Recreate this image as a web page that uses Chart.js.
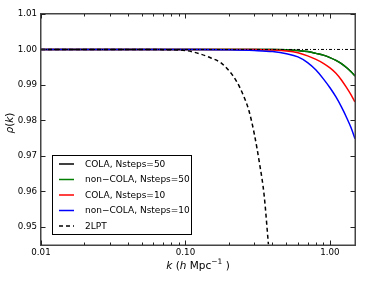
<!DOCTYPE html>
<html>
<head>
<meta charset="utf-8">
<script src="https://cdn.jsdelivr.net/npm/chart.js@4"></script>
<style>
html,body{margin:0;padding:0;background:#fff;}
canvas{display:block;}
</style>
</head>
<body>
<canvas id="c" width="374" height="282"></canvas>
<script>
// ---- data ----
const seriesLabels = ["COLA, Nsteps=50", "non\u2212COLA, Nsteps=50", "COLA, Nsteps=10", "non\u2212COLA, Nsteps=10", "2LPT"];
const kGrid = [0.01, 0.02, 0.05, 0.1, 0.2, 0.3, 0.4, 0.5, 0.6, 0.7, 0.8, 0.9, 1.0, 1.1, 1.2, 1.3, 1.4, 1.49];
const rhoCola50    = [1, 1, 1, 1, 1, 1, 1, 0.99995, 0.9997, 0.9994, 0.9989, 0.9984, 0.9977, 0.9969, 0.9960, 0.9949, 0.9937, 0.9925];
const rhoNonCola50 = [1, 1, 1, 1, 1, 1, 1, 0.99995, 0.9997, 0.9994, 0.9989, 0.9984, 0.9977, 0.9969, 0.9960, 0.9949, 0.9937, 0.9925];
const rhoCola10    = [1, 1, 1, 1, 1, 1, 0.99985, 0.9996, 0.9991, 0.9982, 0.9972, 0.9961, 0.9948, 0.9933, 0.9914, 0.9893, 0.9872, 0.9852];
const rhoNonCola10 = [1, 1, 1, 0.99998, 0.9999, 0.9997, 0.9994, 0.9988, 0.9979, 0.9963, 0.9942, 0.9917, 0.9892, 0.9866, 0.9838, 0.9809, 0.9779, 0.9748];
const k2lpt   = [0.01, 0.03, 0.05, 0.07, 0.1, 0.125, 0.15, 0.175, 0.2, 0.225, 0.25, 0.275, 0.3, 0.325, 0.35, 0.375];
const rho2lpt = [1, 1, 1, 0.99995, 0.9997, 0.9988, 0.9976, 0.9963, 0.9940, 0.9911, 0.9873, 0.9827, 0.9760, 0.9680, 0.9590, 0.9450];
const refK = [0.01, 1.49];
const refRho = [1, 1];
const xTickValues = [0.01, 0.1, 1];
const xMinorTickValues = [0.02, 0.03, 0.04, 0.05, 0.06, 0.07, 0.08, 0.09, 0.2, 0.3, 0.4, 0.5, 0.6, 0.7, 0.8, 0.9];
const yTickValues = [0.95, 0.96, 0.97, 0.98, 0.99, 1.00, 1.01];
const seriesColors = ["#000000", "#007f00", "#ff0000", "#0000ff", "#000000"];

const pts = (xs, ys) => xs.map((x, i) => ({x: x, y: ys[i]}));
const FONT = "'DejaVu Sans', sans-serif";

function mkSet(label, xs, ys, color, dash, order) {
  return {
    label: label, data: pts(xs, ys), borderColor: color, backgroundColor: color,
    borderWidth: 1.5, pointRadius: 0, fill: false, borderDash: dash || [],
    cubicInterpolationMode: 'monotone', order: order
  };
}

// higher order = drawn first (underneath)
const datasets = [
  mkSet(seriesLabels[0], kGrid, rhoCola50, seriesColors[0], [], 6),
  mkSet(seriesLabels[1], kGrid, rhoNonCola50, seriesColors[1], [], 5),
  mkSet(seriesLabels[2], kGrid, rhoCola10, seriesColors[2], [], 4),
  mkSet(seriesLabels[3], kGrid, rhoNonCola10, seriesColors[3], [], 3),
  mkSet(seriesLabels[4], k2lpt, rho2lpt, seriesColors[4], [4, 3], 2),
  Object.assign(mkSet("", refK, refRho, "#000000", [3, 2, 1, 2], 1), {borderWidth: 1, cubicInterpolationMode: 'default'})
];

const decor = {
  id: 'decor',
  afterDraw(chart) {
    const ctx = chart.ctx;
    const a = chart.chartArea;
    const xs = chart.scales.x, ys = chart.scales.y;
    ctx.save();
    // frame (filled strips)
    ctx.fillStyle = '#444';
    const L = Math.round(a.left), R = Math.round(a.right), T = Math.round(a.top), B = Math.round(a.bottom);
    ctx.fillRect(L - 1, T - 1, R - L + 2, 1.5);
    ctx.fillRect(L - 1, B - 0.5, R - L + 2, 1.5);
    ctx.fillRect(L - 1, T - 1, 1.5, B - T + 2);
    ctx.fillRect(R - 0.5, T - 1, 1.5, B - T + 2);
    // inward ticks
    ctx.fillStyle = '#222';
    xTickValues.forEach(v => {
      const px = Math.round(xs.getPixelForValue(v));
      ctx.fillRect(px, B - 4.5, 1, 4.5);
      ctx.fillRect(px, T, 1, 4.5);
    });
    xMinorTickValues.forEach(v => {
      const px = Math.round(xs.getPixelForValue(v));
      ctx.fillRect(px, B - 2.5, 1, 2.5);
      ctx.fillRect(px, T, 1, 2.5);
    });
    yTickValues.forEach(v => {
      const py = Math.round(ys.getPixelForValue(v));
      ctx.fillRect(L, py, 4.5, 1);
      ctx.fillRect(R - 4.5, py, 4.5, 1);
    });

    // legend
    const lx = 52.5, ly = 155.5, lw = 139, lh = 79;
    ctx.fillStyle = '#fff';
    ctx.fillRect(lx, ly, lw, lh);
    ctx.strokeStyle = '#000';
    ctx.lineWidth = 1;
    ctx.strokeRect(lx, ly, lw, lh);
    const rowY = [164, 179.5, 195, 210.5, 226];
    ctx.font = '9px ' + FONT;
    ctx.textBaseline = 'middle';
    ctx.textAlign = 'left';
    for (let i = 0; i < 5; i++) {
      const ds = chart.data.datasets[i];
      ctx.strokeStyle = ds.borderColor;
      ctx.lineWidth = 1.5;
      ctx.setLineDash(ds.borderDash && ds.borderDash.length ? [4, 3] : []);
      ctx.beginPath();
      ctx.moveTo(59, rowY[i]); ctx.lineTo(74, rowY[i]);
      ctx.stroke();
      ctx.setLineDash([]);
      ctx.fillStyle = '#000';
      ctx.fillText(ds.label, 85, rowY[i] + 0.5);
    }

    // x axis title: k (h Mpc^-1)
    ctx.fillStyle = '#000';
    ctx.textBaseline = 'alphabetic';
    const parts = [
      {t: 'k', f: 'italic 10.5px ' + FONT, dy: 0},
      {t: ' (', f: '10.5px ' + FONT, dy: 0},
      {t: 'h', f: 'italic 10.5px ' + FONT, dy: 0},
      {t: ' Mpc', f: '10.5px ' + FONT, dy: 0},
      {t: '\u22121', f: '7.5px ' + FONT, dy: -5},
      {t: ' )', f: '10.5px ' + FONT, dy: 0}
    ];
    let tw = 0;
    parts.forEach(p => { ctx.font = p.f; p.w = ctx.measureText(p.t).width; tw += p.w; });
    let cx = 198 - tw / 2;
    parts.forEach(p => { ctx.font = p.f; ctx.fillText(p.t, cx, 269 + p.dy); cx += p.w; });

    // y axis title: rho(k)
    ctx.translate(13, 123);
    ctx.rotate(-Math.PI / 2);
    const yparts = [
      {t: '\u03C1', f: 'italic 10.5px ' + FONT},
      {t: '(', f: '10.5px ' + FONT},
      {t: 'k', f: 'italic 10.5px ' + FONT},
      {t: ')', f: '10.5px ' + FONT}
    ];
    tw = 0;
    yparts.forEach(p => { ctx.font = p.f; p.w = ctx.measureText(p.t).width; tw += p.w; });
    cx = -tw / 2;
    yparts.forEach(p => { ctx.font = p.f; ctx.fillText(p.t, cx, 0); cx += p.w; });
    ctx.restore();
  }
};

new Chart(document.getElementById('c'), {
  type: 'line',
  data: {datasets: datasets},
  options: {
    responsive: false,
    devicePixelRatio: 1,
    animation: false,
    layout: {padding: {left: 0, right: 19, top: 14, bottom: 0}},
    plugins: {legend: {display: false}, tooltip: {enabled: false}},
    scales: {
      x: {
        type: 'logarithmic', min: 0.01, max: 1.49,
        grid: {display: false, drawTicks: false}, border: {display: false},
        afterBuildTicks: s => { s.ticks = xTickValues.map(v => ({value: v})); },
        afterFit: s => { s.height = 37.5; },
        ticks: {
          font: {family: FONT, size: 8.7}, color: '#000', padding: 3,
          maxRotation: 0, autoSkip: false,
          callback: v => Number(v).toFixed(2)
        }
      },
      y: {
        type: 'linear', min: 0.945, max: 1.01,
        grid: {display: false, drawTicks: false}, border: {display: false},
        afterBuildTicks: s => { s.ticks = yTickValues.map(v => ({value: v})); },
        afterFit: s => { s.width = 41; },
        ticks: {
          font: {family: FONT, size: 8.7}, color: '#000', padding: 4,
          autoSkip: false,
          callback: v => Number(v).toFixed(2)
        }
      }
    }
  },
  plugins: [decor]
});
</script>
</body>
</html>
